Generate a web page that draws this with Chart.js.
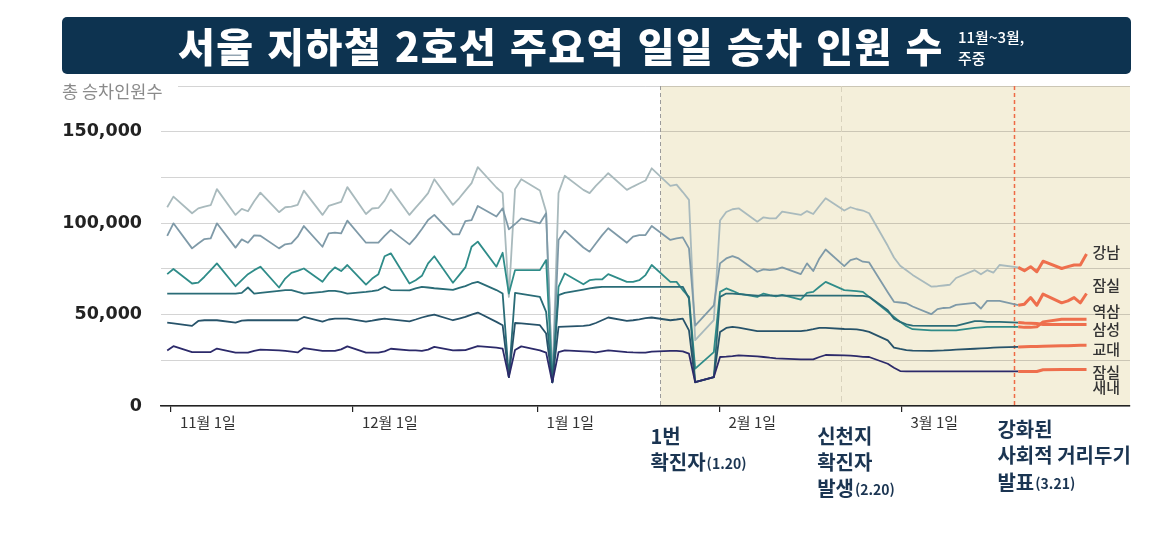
<!DOCTYPE html>
<html lang="ko">
<head>
<meta charset="utf-8">
<title>서울 지하철 2호선 주요역 일일 승차 인원 수</title>
<script src="https://cdn.jsdelivr.net/npm/chart.js@4.4.1/dist/chart.umd.min.js"></script>
<style>
  body { margin: 0; background: #fff; }
  #wrap { position: relative; width: 1165px; height: 546px; overflow: hidden; }
  #c { position: absolute; left: 0; top: 0; }
  #bar { position: absolute; left: 62px; top: 17px; width: 1069px; height: 57px; background: #0d3350; border-radius: 5px; z-index: 2; }
  #ttl { position: absolute; left: 116px; top: 0; line-height: 57px; font-family: 'Noto Sans CJK KR'; font-weight: 900; font-size: 40px; letter-spacing: 1.5px; color: #fff; white-space: nowrap; }
  #sub { position: absolute; left: 896px; top: 9px; font-family: 'Noto Sans CJK KR'; font-weight: 500; font-size: 15px; line-height: 21px; color: #fff; }
</style>
</head>
<body>
<div id="wrap">
  <canvas id="c" width="1165" height="546"></canvas>
  <div id="bar"><span id="ttl">서울 지하철 2호선 주요역 일일 승차 인원 수</span><span id="sub">11월~3월,<br>주중</span></div>
</div>
<script>
// ===== data (weekdays, 2019-10-31 ~ 2020-03-27), values in thousands =====
const dates = ['10-31','11-01','11-04','11-05','11-06','11-07','11-08','11-11','11-12','11-13','11-14','11-15','11-18','11-19','11-20','11-21','11-22','11-25','11-26','11-27','11-28','11-29',
  '12-02','12-03','12-04','12-05','12-06','12-09','12-10','12-11','12-12','12-13','12-16','12-17','12-18','12-19','12-20','12-23','12-24','12-25','12-26','12-27','12-30','12-31',
  '01-01','01-02','01-03','01-06','01-07','01-08','01-09','01-10','01-13','01-14','01-15','01-16','01-17','01-20','01-21','01-22','01-23','01-24','01-27','01-28','01-29','01-30','01-31',
  '02-03','02-04','02-05','02-06','02-07','02-10','02-11','02-12','02-13','02-14','02-17','02-18','02-19','02-20','02-21','02-24','02-25','02-26','02-27','02-28',
  '03-02','03-03','03-04','03-05','03-06','03-09','03-10','03-11','03-12','03-13','03-16','03-17','03-18','03-19','03-20','03-23','03-24','03-25','03-26','03-27'];

const gangnam = [108.7,114.5, 105.4,108.1,109.0,109.8,118.6, 104.5,107.8,106.5,112.0,116.7, 106.0,108.7,109.0,110.0,117.8, 104.5,109.4,110.5,111.6,119.7,
  105.0,108.0,108.3,112.3,118.6, 104.5,108.5,112.3,116.4,124.0, 110.0,113.6,117.8,121.9,130.6, 119.5,116.4,59.7,118.6,124.0, 117.8,106.3,
  13.0,116.4,125.9, 118.2,116.4,120.4,123.8,127.3, 118.2,120.0,121.7,123.3,130.0, 120.4,121.1,117.0,112.7,36.0, 47.0,101.4,106.1,107.6,108.1,
  100.8,103.2,102.6,102.6,106.3, 104.5,106.6,105.0,109.4,113.6, 106.9,108.7,107.6,106.9,105.4, 87.6,81.2,76.7,74.2,71.7,
  65.3,65.5,65.9,66.3,70.0, 74.3,72.0,74.3,72.9,77.1, 75.8,74.0,76.2,73.4,79.2, 75.2,76.2,77.1,77.1,83.1];

const jamsil = [93.0,99.9, 86.2,88.9,91.3,91.7,99.9, 86.6,91.1,89.3,93.3,93.1, 86.2,88.4,88.9,92.6,98.4, 87.1,94.4,94.8,94.4,101.4,
  89.3,89.3,89.3,93.0,96.3, 88.4,92.2,96.8,101.7,104.5, 93.9,93.9,101.1,101.7,109.4, 103.6,108.1,96.6,99.5,102.6, 99.9,105.4,
  13.0,90.8,95.9, 86.7,84.4,88.9,93.3,97.2, 89.3,92.6,93.5,93.5,98.4, 90.8,91.7,92.2,86.2,44.0, 55.0,78.0,80.7,82.0,80.7,
  73.4,74.7,74.3,74.7,75.8, 72.1,78.0,73.8,80.7,85.6, 76.5,79.8,80.7,78.9,78.5, 62.2,57.0,56.6,56.2,54.4,
  50.2,53.0,53.6,53.8,55.3, 56.4,53.3,57.5,57.5,57.5, 55.1,55.7,59.3,55.1,61.2, 56.4,57.5,59.3,56.4,61.5];

const yeoksam = [72.1,74.9, 67.0,67.5,70.7,74.3,78.0, 65.5,68.8,72.1,74.3,76.2, 64.8,69.7,72.8,73.9,75.2, 67.9,72.5,75.8,73.8,77.1,
  66.4,69.7,72.1,81.9,83.5, 67.0,68.8,71.2,78.0,81.9, 67.4,71.6,75.8,87.1,89.9, 76.2,83.8,61.5,74.3,74.3, 74.3,79.8,
  13.0,65.1,72.5, 66.6,68.8,69.2,69.2,72.1, 67.9,67.9,68.8,71.6,77.1, 67.9,67.9,63.4,59.7,20.4, 29.5,62.4,64.3,63.0,61.5,
  59.7,61.5,60.6,60.0,60.8, 58.2,61.9,62.4,65.2,67.9, 63.4,63.1,62.8,62.4,59.7, 51.5,48.7,46.0,43.6,42.0,
  41.4,41.4,41.4,41.4,41.4, 42.7,43.0,43.3,43.3,43.3, 43.3,43.0,43.0,43.3,46.0, 47.4,47.4,47.4,47.4,47.4];

const samseong = [61.5,61.5, 61.5,61.5,61.5,61.5,61.5, 61.5,61.9,64.8,61.5,61.9, 63.0,63.4,63.4,62.4,61.5, 62.4,63.0,63.0,62.4,61.5,
  62.4,62.8,63.4,65.2,63.4, 63.2,64.3,65.2,64.8,64.4, 63.5,64.6,65.6,67.0,67.9, 63.4,61.5,15.8,61.9,61.3, 59.7,51.5,
  13.0,60.6,61.9, 63.7,64.3,64.8,65.2,65.2, 65.2,65.2,65.2,65.2,65.2, 65.2,65.2,65.2,58.8,13.0, 15.8,59.7,61.5,61.5,61.2,
  60.4,60.4,60.4,60.4,60.4, 60.4,60.4,60.4,60.4,60.4, 60.4,60.4,60.2,60.2,59.7, 52.4,47.8,46.0,44.7,44.0,
  43.8,43.8,43.8,43.8,43.8, 46.4,46.4,46.0,46.0,46.0, 45.6,45.4,45.3,45.1,44.6, 44.6,44.6,44.6,44.6,44.6];

const gyodae = [45.6,45.2, 43.8,46.5,46.9,46.9,46.9, 45.6,46.7,46.9,46.9,46.9, 46.9,46.9,46.9,46.9,48.7, 46.2,47.3,47.8,47.8,47.8,
  46.2,46.7,47.3,47.8,47.4, 46.3,47.3,48.4,49.3,50.0, 46.9,47.8,48.7,50.0,51.1, 46.0,44.2,15.8,45.4,45.2, 44.2,39.6,
  13.0,43.3,43.4, 43.8,44.2,45.4,46.9,48.4, 46.5,46.9,47.4,48.0,48.4, 46.9,47.3,47.8,41.4,13.0, 15.8,40.5,42.7,43.3,42.9,
  40.9,40.9,40.9,40.9,40.9, 40.9,41.4,42.0,42.7,42.7, 42.1,42.0,41.9,41.4,40.5, 35.9,31.9,31.2,30.6,30.3,
  30.1,30.3,30.4,30.6,30.8, 31.3,31.5,31.7,31.9,32.1, 32.3,32.4,32.5,32.6,32.7, 32.9,33.0,33.1,33.2,33.2];

const jamsilsaenae = [30.4,32.7, 29.5,29.5,29.5,29.5,31.4, 29.2,29.2,29.2,30.1,30.8, 30.4,30.1,29.7,29.3,31.7, 30.1,30.1,30.1,31.0,32.6,
  29.2,29.2,29.2,29.9,31.3, 30.4,30.4,30.1,30.8,32.3, 30.4,30.5,30.6,31.7,32.8, 31.9,31.4,15.8,30.6,32.6, 30.4,29.2,
  13.0,29.5,30.4, 29.9,29.7,29.3,29.9,30.4, 29.5,29.3,29.2,29.2,29.7, 30.2,30.2,29.9,28.6,13.0, 15.8,26.8,27.0,27.3,27.7,
  27.1,26.8,26.4,26.1,25.9, 25.5,25.5,25.5,26.8,27.9, 27.7,27.5,27.3,26.9,26.8, 23.1,20.9,19.1,18.9,18.9,
  18.9,18.9,18.9,18.9,18.9, 18.9,18.9,18.9,18.9,18.9, 18.9,18.9,18.9,18.9,19.8, 20.0,20.0,20.0,20.0,20.0];

const stations = ['강남', '잠실', '역삼', '삼성', '교대', '잠실새내'];
const series = [gangnam, jamsil, yeoksam, samseong, gyodae, jamsilsaenae];
const lineColors = ['#a9babd', '#7f9aa8', '#2f8c89', '#2a6c77', '#27536a', '#2c2a6a'];
const orange = '#ee6f4d';

// x axis in days from Nov 1; ticks and event marks sit where the original graphic put them
const tickDays = [-0.4, 28.9, 58.6, 87.9, 117.2];
const tickLabels = ['11월 1일', '12월 1일', '1월 1일', '2월 1일', '3월 1일'];
const eventDays = [78.4, 107.5, 135.4];
const eventNotes = [['1번', '확진자(1.20)'], ['신천지', '확진자', '발생(2.20)'], ['강화된', '사회적 거리두기', '발표(3.21)']];

const dayOf = s => {
  const [m, d] = s.split('-').map(Number);
  const yr = m >= 10 ? 2019 : 2020;
  return (Date.UTC(yr, m - 1, d) - Date.UTC(2019, 10, 1)) / 86400000;
};
const xs = dates.map(dayOf);
const orangeFrom = eventDays[2];

const KR = '"Noto Sans CJK KR", "Noto Sans", sans-serif';

// ===== drawing helpers =====
const decor = {
  id: 'decor',
  beforeDraw(chart) {
    const { ctx, chartArea: a, scales: { x } } = chart;
    const x0 = x.getPixelForValue(eventDays[0]);
    ctx.save();
    ctx.fillStyle = '#f4efda';
    ctx.fillRect(x0, a.top, a.right - x0, a.bottom - a.top);
    ctx.restore();
  },
  beforeDatasetsDraw(chart) {
    const { ctx, chartArea: a, scales: { x } } = chart;
    const styles = [['#9b9b9b', [4, 3], 1], ['#d8d2bd', [6, 4], 1], ['#ee6a45', [4, 3], 1.5]];
    ctx.save();
    eventDays.forEach((d, i) => {
      const px = Math.round(x.getPixelForValue(d)) + 0.5;
      ctx.strokeStyle = styles[i][0];
      ctx.setLineDash(styles[i][1]);
      ctx.lineWidth = styles[i][2];
      ctx.beginPath();
      ctx.moveTo(px, a.top);
      ctx.lineTo(px, a.bottom);
      ctx.stroke();
    });
    ctx.restore();
  },
  afterDraw(chart) {
    const { ctx, chartArea: a, scales: { x } } = chart;
    ctx.save();
    // y axis title
    ctx.fillStyle = '#fff';
    ctx.fillRect(a.left - 1, a.top - 3, 18, 6);
    ctx.font = '400 17.5px ' + KR;
    ctx.fillStyle = '#8a8a8a';
    ctx.textBaseline = 'middle';
    ctx.textAlign = 'left';
    ctx.fillText('총 승차인원수', 62, 91);

    // station labels at line ends
    const dys = [[-2], [-8], [-8], [5], [4], [3, 18]];
    ctx.font = '500 15px ' + KR;
    ctx.fillStyle = '#333';
    chart.data.datasets.forEach((ds, i) => {
      const meta = chart.getDatasetMeta(i);
      const last = meta.data[meta.data.length - 1];
      const name = stations[i];
      const parts = name.length > 2 ? [name.slice(0, 2), name.slice(2)] : [name];
      parts.forEach((p, j) => ctx.fillText(p, last.x + 6, last.y + dys[i][j]));
    });

    // event notes under the axis
    const noteOff = [[-10, 436, 26], [-24, 436, 26], [-17, 429, 26.5]];
    ctx.fillStyle = '#1b3552';
    eventNotes.forEach((lines, i) => {
      const left = x.getPixelForValue(eventDays[i]) + noteOff[i][0];
      lines.forEach((ln, j) => {
        const m = ln.match(/^(.*?)(\(.*\))?$/);
        const y = noteOff[i][1] + j * noteOff[i][2];
        ctx.font = '700 20px ' + KR;
        ctx.fillText(m[1], left, y);
        if (m[2]) {
          const w = ctx.measureText(m[1]).width;
          ctx.font = '700 14px ' + KR;
          ctx.fillText(m[2], left + w + 1, y + 2);
        }
      });
    });
    ctx.restore();
  }
};

const datasets = series.map((vals, i) => ({
  label: stations[i],
  data: vals.map((v, j) => ({ x: xs[j], y: v * 1000 })),
  borderColor: lineColors[i],
  borderWidth: 1.8,
  pointRadius: 0,
  tension: 0,
  borderJoinStyle: 'round',
  order: series.length - i,
  segment: {
    borderColor: c => c.p0.parsed.x >= orangeFrom ? orange : undefined,
    borderWidth: c => c.p0.parsed.x >= orangeFrom ? 3 : undefined
  }
}));

new Chart(document.getElementById('c'), {
  type: 'line',
  data: { datasets },
  options: {
    responsive: false,
    animation: false,
    events: [],
    layout: { padding: { top: 86, right: 35, bottom: 0, left: 0 } },
    plugins: { legend: { display: false }, tooltip: { enabled: false } },
    scales: {
      x: {
        type: 'linear', min: -2, max: 154,
        afterBuildTicks: s => { s.ticks = tickDays.map(v => ({ value: v })); },
        afterFit: s => { s.height = 140; s.paddingLeft = 0; s.paddingRight = 0; },
        grid: { drawOnChartArea: false, drawTicks: true, tickLength: 6, color: '#222', lineWidth: 1.2 },
        border: { display: true, color: '#222', width: 1.6 },
        ticks: {
          autoSkip: false, maxRotation: 0, align: 'start', labelOffset: 9, padding: 1,
          color: '#333', font: { family: KR, size: 15, weight: '400' },
          callback: (v, i) => tickLabels[i]
        }
      },
      y: {
        min: 0, max: 175000,
        afterFit: s => { s.width = 161; s.paddingTop = 0; s.paddingBottom = 0; },
        grid: { color: 'rgba(0,0,0,0.17)', lineWidth: 1, drawTicks: false },
        border: { display: false },
        ticks: {
          stepSize: 25000, padding: 19, color: '#222',
          font: { family: '"DejaVu Sans"', size: 17.5, weight: 'bold' },
          callback: v => (v % 50000 === 0 && v < 175000) ? v.toLocaleString('en-US') : ''
        }
      }
    }
  },
  plugins: [decor]
});
</script>
</body>
</html>
